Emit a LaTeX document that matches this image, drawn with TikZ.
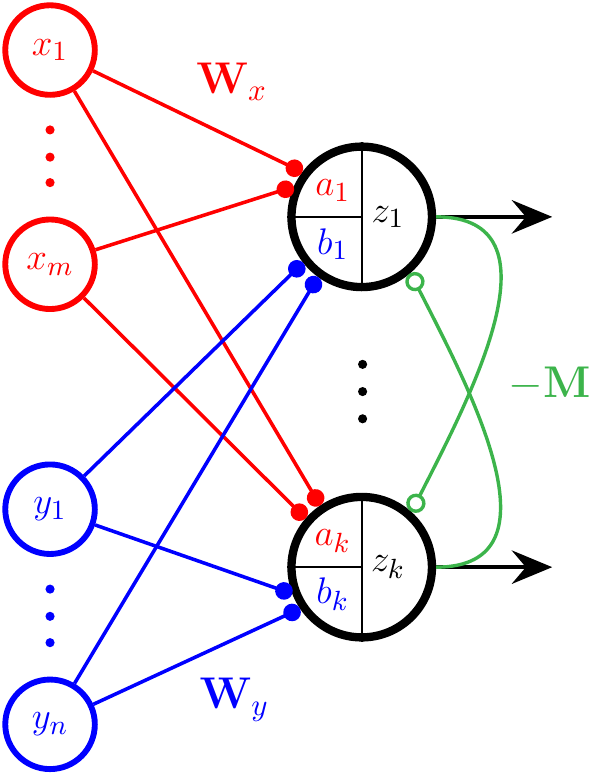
\documentclass[tikz,border=0pt]{standalone}
\usetikzlibrary{arrows.meta,calc}
\definecolor{lateralgreen}{RGB}{60,180,75}
\tikzset{
  inneuron/.style={circle, draw, line width=1.9pt, minimum size=1.02cm, inner sep=0pt, font=\fontsize{12.5}{15}\selectfont},
  outneuron/.style={circle, draw=black, line width=2.7pt, minimum size=1.6cm, inner sep=0pt},
  excite/.style={line width=1.15pt, -{Circle[length=2mm]}},
  inhibit/.style={lateralgreen, line width=1.1pt, -{Circle[open, length=2.2mm]}},
  output/.style={line width=1.5pt, -{Stealth[length=4.6mm, width=3.8mm, inset=1.6mm]}},
  split/.style={line width=0.75pt},
  inlabel/.style={font=\fontsize{12.5}{15}\selectfont},
}
\begin{document}
\begin{tikzpicture}
        \useasboundingbox (0,0) rectangle (6.72,-8.816);
        %neuroni di ingresso
        \node[inneuron, red] (x1) at (0.57,-0.57) {$x_1$};
        \node[inneuron, red] (xm) at (0.57,-3.01) {$x_m$};
        \node[inneuron, blue] (y1) at (0.57,-5.80) {$y_1$};
        \node[inneuron, blue] (yn) at (0.57,-8.25) {$y_n$};
        %neuroni di uscita
        \node[outneuron] (z1) at (4.12,-2.47) {};
        \node[outneuron] (zk) at (4.12,-6.46) {};
        %divisioni interne
        \draw[split] (z1.north) -- (z1.south) (z1.west) -- (z1.center);
        \draw[split] (zk.north) -- (zk.south) (zk.west) -- (zk.center);
        \node[inlabel, red] (a1) at ($(z1)+(-0.33,0.30)$) {$a_1$};
        \node[inlabel, blue] (b1) at ($(z1)+(-0.33,-0.31)$) {$b_1$};
        \node[inlabel] (s1) at ($(z1)+(0.30,0)$) {$z_1$};
        \node[inlabel, red] (ak) at ($(zk)+(-0.33,0.30)$) {$a_k$};
        \node[inlabel, blue] (bk) at ($(zk)+(-0.33,-0.31)$) {$b_k$};
        \node[inlabel] (sk) at ($(zk)+(0.30,0)$) {$z_k$};
        %puntini
        \foreach \y in {-1.48,-1.79,-2.08} \fill[red] (0.57,\y) circle (0.052);
        \foreach \y in {-6.71,-7.02,-7.32} \fill[blue] (0.57,\y) circle (0.052);
        \foreach \y in {-4.15,-4.46,-4.77} \fill[black] (4.13,\y) circle (0.052);
        %pesi W_x
        \draw[excite, red] (x1) -- (z1.143.6);
        \draw[excite, red] (xm) -- (z1.156.5);
        \draw[excite, red] (x1) -- (zk.124);
        \draw[excite, red] (xm) -- (zk.139.7);
        %pesi W_y
        \draw[excite, blue] (y1) -- (z1.218.2);
        \draw[excite, blue] (yn) -- (z1.234.5);
        \draw[excite, blue] (y1) -- (zk.201.6);
        \draw[excite, blue] (yn) -- (zk.214.7);
        %uscite
        \coordinate (out1) at (6.29,-2.47);
        \coordinate (outk) at (6.29,-6.46);
        \draw[output] (z1.east) -- (out1);
        \draw[output] (zk.east) -- (outk);
        %connessioni laterali
        \draw[inhibit] (zk.east) to[out=0, in=-63, looseness=1.12] (z1.-49);
        \draw[inhibit] (z1.east) to[out=0, in=63, looseness=1.12] (zk.48);
        %label
        \node[red, font=\Large] (wx) at (2.64,-0.93) {$\mathbf{W}_x$};
        \node[blue, font=\Large] (wy) at (2.67,-7.97) {$\mathbf{W}_y$};
        \node[lateralgreen, font=\Large] (mm) at (6.26,-4.38) {$-\mathbf{M}$};
\end{tikzpicture}
\end{document}
